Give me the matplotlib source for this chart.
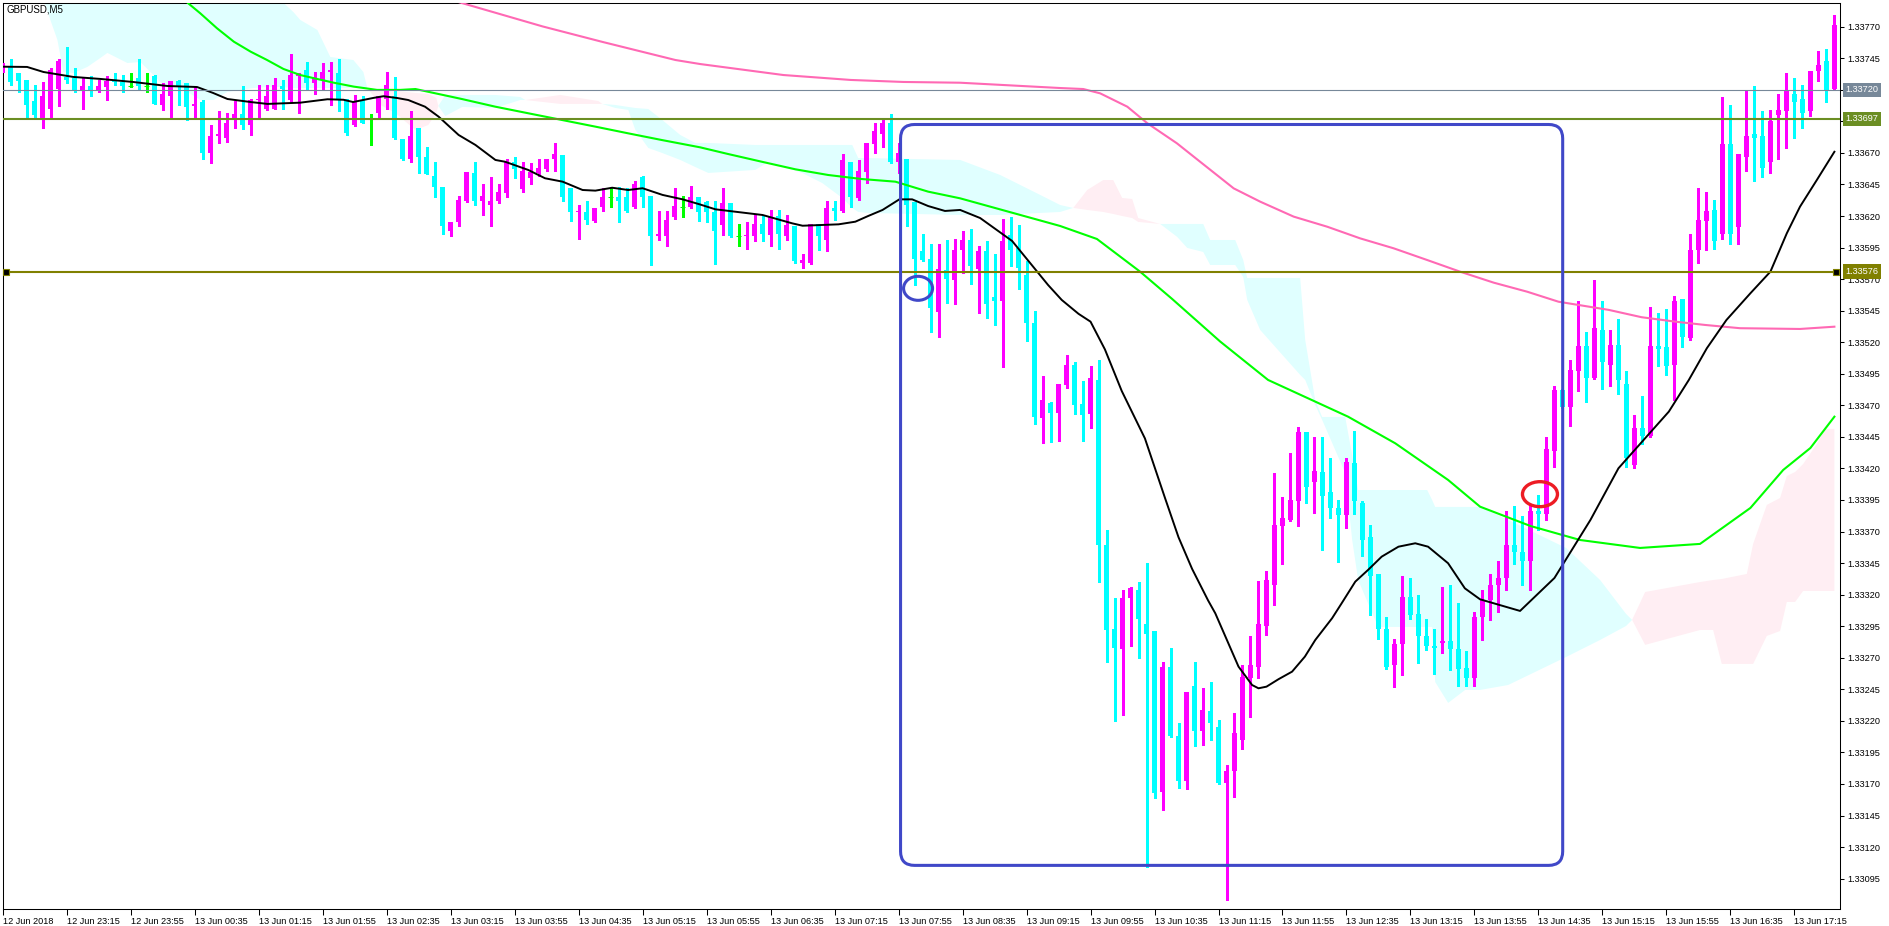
import matplotlib
matplotlib.use("Agg")
import matplotlib.pyplot as plt
import matplotlib.transforms as mtransforms
from matplotlib.patches import FancyBboxPatch, Ellipse
import numpy as np
import pandas as pd

# GBPUSD M5 bars, 12 Jun 22:35 -> 13 Jun 17:40
opens = [
    1.33735, 1.33738, 1.33733, 1.33728, 1.33711, 1.33697, 1.33705, 1.33721, 1.33730, 1.33729,
    1.33719, 1.33723, 1.33720, 1.33722, 1.33727, 1.33726, 1.33723, 1.33729, 1.33723, 1.33731,
    1.33708, 1.33715, 1.33727, 1.33725, 1.33707, 1.33710, 1.33670, 1.33683, 1.33682, 1.33697,
    1.33701, 1.33692, 1.33712, 1.33705, 1.33705, 1.33723, 1.33712, 1.33731, 1.33736, 1.33725,
    1.33728, 1.33734, 1.33733, 1.33713, 1.33692, 1.33711, 1.33697, 1.33702, 1.33713, 1.33715,
    1.33681, 1.33665, 1.33690, 1.33667, 1.33652, 1.33643, 1.33608, 1.33615, 1.33632, 1.33654,
    1.33632, 1.33629, 1.33632, 1.33638, 1.33663, 1.33641, 1.33650, 1.33654, 1.33657, 1.33665,
    1.33668, 1.33642, 1.33623, 1.33623, 1.33616, 1.33627, 1.33635, 1.33635, 1.33635, 1.33627,
    1.33651, 1.33636, 1.33604, 1.33604, 1.33619, 1.33627, 1.33627, 1.33635, 1.33631, 1.33623,
    1.33613, 1.33630, 1.33604, 1.33604, 1.33604, 1.33614, 1.33605, 1.33620, 1.33604, 1.33612,
    1.33583, 1.33583, 1.33614, 1.33601, 1.33626, 1.33624, 1.33663, 1.33634, 1.33655, 1.33677,
    1.33685, 1.33694, 1.33663, 1.33665, 1.33631, 1.33592, 1.33586, 1.33544, 1.33577, 1.33569,
    1.33593, 1.33601, 1.33578, 1.33592, 1.33556, 1.33553, 1.33605, 1.33595, 1.33573, 1.33535,
    1.33460, 1.33472, 1.33464, 1.33486, 1.33502, 1.33471, 1.33463, 1.33490, 1.33359, 1.33293,
    1.33277, 1.33317, 1.33324, 1.33297, 1.33291, 1.33164, 1.33263, 1.33208, 1.33172, 1.33248,
    1.33212, 1.33228, 1.33215, 1.33171, 1.33180, 1.33205, 1.33254, 1.33263, 1.33295, 1.33328,
    1.33374, 1.33379, 1.33394, 1.33449, 1.33409, 1.33417, 1.33401, 1.33389, 1.33383, 1.33424,
    1.33393, 1.33366, 1.33336, 1.33293, 1.33264, 1.33281, 1.33318, 1.33305, 1.33287, 1.33279,
    1.33282, 1.33283, 1.33277, 1.33262, 1.33254, 1.33302, 1.33316, 1.33328, 1.33333, 1.33359,
    1.33354, 1.33347, 1.33386, 1.33384, 1.33434, 1.33482, 1.33469, 1.33497, 1.33517, 1.33492,
    1.33530, 1.33502, 1.33518, 1.33487, 1.33423, 1.33452, 1.33446, 1.33517, 1.33516, 1.33502,
    1.33554, 1.33523, 1.33593, 1.33616, 1.33625, 1.33606, 1.33677, 1.33611, 1.33667, 1.33685,
    1.33683, 1.33663, 1.33700, 1.33703, 1.33717, 1.33713, 1.33703, 1.33735, 1.33743, 1.33721,
]
highs = [
    1.33741, 1.33744, 1.33733, 1.33728, 1.33724, 1.33726, 1.33737, 1.33744, 1.33754, 1.33737,
    1.33730, 1.33731, 1.33728, 1.33731, 1.33733, 1.33732, 1.33733, 1.33744, 1.33733, 1.33732,
    1.33725, 1.33727, 1.33728, 1.33725, 1.33722, 1.33712, 1.33692, 1.33703, 1.33702, 1.33711,
    1.33723, 1.33713, 1.33724, 1.33724, 1.33729, 1.33728, 1.33748, 1.33733, 1.33742, 1.33734,
    1.33741, 1.33742, 1.33744, 1.33713, 1.33716, 1.33715, 1.33701, 1.33715, 1.33734, 1.33730,
    1.33681, 1.33703, 1.33690, 1.33675, 1.33663, 1.33643, 1.33615, 1.33636, 1.33655, 1.33663,
    1.33645, 1.33651, 1.33645, 1.33665, 1.33667, 1.33663, 1.33662, 1.33665, 1.33665, 1.33678,
    1.33668, 1.33642, 1.33629, 1.33632, 1.33626, 1.33642, 1.33642, 1.33643, 1.33642, 1.33648,
    1.33652, 1.33636, 1.33624, 1.33624, 1.33642, 1.33636, 1.33644, 1.33635, 1.33632, 1.33632,
    1.33642, 1.33630, 1.33614, 1.33615, 1.33621, 1.33621, 1.33625, 1.33625, 1.33621, 1.33612,
    1.33590, 1.33614, 1.33614, 1.33632, 1.33632, 1.33669, 1.33663, 1.33664, 1.33678, 1.33694,
    1.33696, 1.33701, 1.33678, 1.33665, 1.33631, 1.33606, 1.33598, 1.33598, 1.33601, 1.33602,
    1.33608, 1.33610, 1.33596, 1.33600, 1.33590, 1.33618, 1.33619, 1.33613, 1.33584, 1.33545,
    1.33493, 1.33473, 1.33487, 1.33510, 1.33504, 1.33489, 1.33501, 1.33506, 1.33371, 1.33317,
    1.33324, 1.33326, 1.33330, 1.33345, 1.33291, 1.33267, 1.33278, 1.33218, 1.33243, 1.33267,
    1.33246, 1.33251, 1.33221, 1.33185, 1.33226, 1.33264, 1.33287, 1.33331, 1.33339, 1.33416,
    1.33397, 1.33432, 1.33453, 1.33449, 1.33445, 1.33445, 1.33428, 1.33395, 1.33428, 1.33450,
    1.33394, 1.33375, 1.33336, 1.33302, 1.33285, 1.33335, 1.33333, 1.33320, 1.33301, 1.33293,
    1.33326, 1.33328, 1.33313, 1.33275, 1.33306, 1.33324, 1.33336, 1.33347, 1.33386, 1.33390,
    1.33382, 1.33392, 1.33399, 1.33445, 1.33485, 1.33483, 1.33506, 1.33553, 1.33528, 1.33569,
    1.33553, 1.33530, 1.33538, 1.33497, 1.33462, 1.33477, 1.33548, 1.33543, 1.33546, 1.33557,
    1.33554, 1.33606, 1.33642, 1.33639, 1.33633, 1.33714, 1.33708, 1.33669, 1.33719, 1.33723,
    1.33703, 1.33704, 1.33717, 1.33733, 1.33729, 1.33724, 1.33735, 1.33751, 1.33752, 1.33779,
]
lows = [
    1.33734, 1.33724, 1.33718, 1.33697, 1.33697, 1.33690, 1.33697, 1.33707, 1.33725, 1.33718,
    1.33705, 1.33715, 1.33718, 1.33712, 1.33724, 1.33718, 1.33722, 1.33721, 1.33718, 1.33709,
    1.33704, 1.33697, 1.33708, 1.33696, 1.33697, 1.33665, 1.33662, 1.33678, 1.33679, 1.33690,
    1.33689, 1.33684, 1.33697, 1.33704, 1.33705, 1.33705, 1.33711, 1.33702, 1.33721, 1.33717,
    1.33720, 1.33708, 1.33703, 1.33684, 1.33691, 1.33694, 1.33676, 1.33697, 1.33705, 1.33681,
    1.33664, 1.33663, 1.33654, 1.33653, 1.33635, 1.33606, 1.33604, 1.33612, 1.33631, 1.33629,
    1.33621, 1.33612, 1.33630, 1.33635, 1.33650, 1.33639, 1.33645, 1.33652, 1.33656, 1.33656,
    1.33632, 1.33616, 1.33602, 1.33614, 1.33615, 1.33624, 1.33627, 1.33615, 1.33623, 1.33626,
    1.33627, 1.33581, 1.33601, 1.33596, 1.33618, 1.33619, 1.33626, 1.33616, 1.33615, 1.33582,
    1.33605, 1.33603, 1.33596, 1.33594, 1.33600, 1.33600, 1.33596, 1.33594, 1.33601, 1.33583,
    1.33579, 1.33582, 1.33593, 1.33592, 1.33617, 1.33623, 1.33627, 1.33633, 1.33646, 1.33670,
    1.33675, 1.33662, 1.33654, 1.33612, 1.33565, 1.33584, 1.33528, 1.33524, 1.33551, 1.33550,
    1.33575, 1.33566, 1.33543, 1.33539, 1.33534, 1.33500, 1.33580, 1.33562, 1.33521, 1.33455,
    1.33440, 1.33441, 1.33442, 1.33484, 1.33463, 1.33442, 1.33452, 1.33330, 1.33267, 1.33220,
    1.33225, 1.33279, 1.33270, 1.33104, 1.33159, 1.33149, 1.33207, 1.33167, 1.33166, 1.33200,
    1.33201, 1.33205, 1.33170, 1.33078, 1.33160, 1.33198, 1.33223, 1.33254, 1.33288, 1.33312,
    1.33344, 1.33378, 1.33374, 1.33393, 1.33385, 1.33355, 1.33381, 1.33346, 1.33373, 1.33384,
    1.33351, 1.33304, 1.33285, 1.33261, 1.33247, 1.33256, 1.33301, 1.33266, 1.33276, 1.33257,
    1.33274, 1.33260, 1.33248, 1.33248, 1.33248, 1.33284, 1.33300, 1.33306, 1.33324, 1.33344,
    1.33328, 1.33324, 1.33371, 1.33379, 1.33421, 1.33468, 1.33454, 1.33481, 1.33473, 1.33491,
    1.33483, 1.33485, 1.33479, 1.33421, 1.33420, 1.33439, 1.33445, 1.33501, 1.33494, 1.33474,
    1.33516, 1.33522, 1.33583, 1.33593, 1.33594, 1.33602, 1.33598, 1.33598, 1.33656, 1.33648,
    1.33651, 1.33654, 1.33665, 1.33674, 1.33682, 1.33690, 1.33699, 1.33727, 1.33710, 1.33720,
]
closes = [
    1.33740, 1.33726, 1.33727, 1.33708, 1.33700, 1.33715, 1.33736, 1.33743, 1.33728, 1.33720,
    1.33723, 1.33720, 1.33723, 1.33727, 1.33726, 1.33723, 1.33723, 1.33723, 1.33723, 1.33709,
    1.33717, 1.33727, 1.33722, 1.33706, 1.33709, 1.33670, 1.33683, 1.33685, 1.33694, 1.33701,
    1.33692, 1.33712, 1.33713, 1.33715, 1.33724, 1.33721, 1.33732, 1.33733, 1.33725, 1.33730,
    1.33734, 1.33736, 1.33712, 1.33686, 1.33711, 1.33694, 1.33697, 1.33715, 1.33724, 1.33682,
    1.33665, 1.33683, 1.33667, 1.33653, 1.33643, 1.33612, 1.33615, 1.33633, 1.33655, 1.33632,
    1.33636, 1.33632, 1.33639, 1.33663, 1.33657, 1.33656, 1.33655, 1.33658, 1.33665, 1.33669,
    1.33635, 1.33623, 1.33624, 1.33617, 1.33626, 1.33635, 1.33635, 1.33632, 1.33624, 1.33645,
    1.33635, 1.33604, 1.33606, 1.33617, 1.33628, 1.33627, 1.33635, 1.33623, 1.33623, 1.33608,
    1.33630, 1.33604, 1.33604, 1.33605, 1.33614, 1.33606, 1.33619, 1.33606, 1.33613, 1.33584,
    1.33585, 1.33614, 1.33604, 1.33626, 1.33624, 1.33664, 1.33635, 1.33656, 1.33678, 1.33687,
    1.33694, 1.33663, 1.33670, 1.33629, 1.33586, 1.33585, 1.33547, 1.33578, 1.33570, 1.33593,
    1.33601, 1.33580, 1.33592, 1.33550, 1.33553, 1.33600, 1.33593, 1.33579, 1.33535, 1.33461,
    1.33474, 1.33464, 1.33487, 1.33502, 1.33470, 1.33462, 1.33492, 1.33359, 1.33292, 1.33278,
    1.33317, 1.33325, 1.33301, 1.33289, 1.33163, 1.33263, 1.33208, 1.33172, 1.33243, 1.33212,
    1.33229, 1.33218, 1.33171, 1.33180, 1.33210, 1.33255, 1.33264, 1.33297, 1.33332, 1.33375,
    1.33381, 1.33395, 1.33449, 1.33405, 1.33418, 1.33398, 1.33389, 1.33383, 1.33425, 1.33394,
    1.33363, 1.33335, 1.33293, 1.33263, 1.33281, 1.33318, 1.33304, 1.33287, 1.33279, 1.33278,
    1.33283, 1.33277, 1.33261, 1.33254, 1.33302, 1.33316, 1.33328, 1.33333, 1.33359, 1.33354,
    1.33347, 1.33386, 1.33384, 1.33435, 1.33482, 1.33469, 1.33498, 1.33517, 1.33492, 1.33531,
    1.33504, 1.33518, 1.33490, 1.33428, 1.33452, 1.33446, 1.33517, 1.33515, 1.33501, 1.33553,
    1.33524, 1.33593, 1.33617, 1.33624, 1.33600, 1.33677, 1.33606, 1.33669, 1.33683, 1.33682,
    1.33658, 1.33695, 1.33704, 1.33719, 1.33710, 1.33702, 1.33735, 1.33740, 1.33720, 1.33771,
]
first_bar = "2018-06-12 22:35"

# moving averages, sampled along the drawn lines (bar index, price)
black_ma_bar = [0, 3.05, 5.1, 8.8, 12.2, 16.3, 20.6, 24.3, 26.3, 28.1, 31, 33.1, 37.2, 40.6,
                42.6, 43.8, 46.3, 47.6, 49.3, 50.7, 52.8, 54.5, 57, 59.1, 61.6, 62.8, 65.7,
                67.8, 70, 72.5, 74.1, 76.2, 78.2, 80, 82.5, 85, 87, 89.1, 95, 98.7, 100,
                104.5, 106.6, 108.2, 110, 112.1, 113.7, 115.7, 117.8, 119.7, 122.2, 126.2,
                130.7, 132.4, 134.5, 136, 137.8, 139.9, 142.8, 145.3, 147, 148.7, 150.7,
                151.6, 154.5, 156.2, 157, 158, 159.5, 161.2, 162.8, 164.1, 166.2, 167.4,
                169.1, 170.7, 172.4, 174.5, 176.6, 178.2, 180.7, 182.8, 184.7, 189.7, 194,
                198.5, 202, 205.7, 208.3, 210.8, 213.05, 215.5, 218.5, 221, 223.05, 224.7,
                226.8, 229]
black_ma = [1.337383, 1.337381, 1.337341, 1.337302, 1.337286, 1.337262, 1.337230, 1.337222,
            1.337175, 1.337127, 1.337103, 1.337088, 1.337098, 1.337125, 1.337121, 1.337103,
            1.337135, 1.337149, 1.337135, 1.337119, 1.337066, 1.336987, 1.336842, 1.336763,
            1.336644, 1.336630, 1.336565, 1.336499, 1.336472, 1.336406, 1.336401, 1.336424,
            1.336406, 1.336420, 1.336367, 1.336332, 1.336295, 1.336253, 1.336208, 1.336142,
            1.336123, 1.336134, 1.336155, 1.336200, 1.336248, 1.336332, 1.336332, 1.336279,
            1.336240, 1.336248, 1.336184, 1.336002, 1.335653, 1.335535, 1.335425, 1.335363,
            1.335143, 1.334814, 1.334438, 1.333968, 1.333655, 1.333404, 1.333154, 1.333052,
            1.332630, 1.332484, 1.332458, 1.332471, 1.332530, 1.332590, 1.332709, 1.332841,
            1.333013, 1.333132, 1.333303, 1.333396, 1.333501, 1.333580, 1.333607, 1.333580,
            1.333449, 1.333250, 1.333163, 1.333071, 1.333332, 1.333792, 1.334201, 1.334465,
            1.334650, 1.334901, 1.335152, 1.335376, 1.335588, 1.335759, 1.336063, 1.336274,
            1.336485, 1.336709]
green_ma_bar = [22, 23.2, 24.7, 26.8, 28.9, 31, 33.05, 35.1, 37.2, 39.3, 41.4, 43.9, 46.8,
                49.7, 51.6, 57.4, 61.6, 65.7, 69.9, 74.1, 78.2, 82.4, 87.2, 90.7, 94.9, 99.1,
                103.2, 107.4, 111.6, 115.7, 119.7, 132.2, 136.8, 142.2, 146.2, 152.2, 158.2,
                168.2, 174.1, 180.7, 184.7, 191, 197.2, 204.7, 212.2, 218.5, 222.6, 226, 229]
green_ma = [1.337955, 1.337885, 1.337806, 1.337687, 1.337581, 1.337502, 1.337436, 1.337365,
            1.337317, 1.337286, 1.337256, 1.337225, 1.337199, 1.337199, 1.337206, 1.337127,
            1.337066, 1.337014, 1.336961, 1.336908, 1.336855, 1.336802, 1.336744, 1.336691,
            1.336630, 1.336570, 1.336525, 1.336493, 1.336472, 1.336393, 1.336340, 1.336121,
            1.336018, 1.335759, 1.335543, 1.335206, 1.334901, 1.334610, 1.334399, 1.334109,
            1.333897, 1.333744, 1.333633, 1.333570, 1.333602, 1.333887, 1.334188, 1.334362,
            1.334610]
pink_ma_bar = [54, 67.5, 75, 84.1, 87.2, 97.6, 106, 112.6, 119.7, 132.2, 135.1, 137.2, 140.6,
               143.1, 146.8, 149.7, 153.9, 157.2, 161.4, 165.6, 169.7, 173.9, 178.1, 182.2,
               186.4, 190.6, 194.5, 200.8, 204.9, 209.1, 212.8, 217.2, 224.7, 229]
pink_ma = [1.337950, 1.337702, 1.337579, 1.337436, 1.337404, 1.337317, 1.337278, 1.337262,
           1.337256, 1.337214, 1.337206, 1.337172, 1.337066, 1.336935, 1.336776, 1.336630,
           1.336419, 1.336314, 1.336195, 1.336115, 1.336023, 1.335944, 1.335851, 1.335759,
           1.335672, 1.335600, 1.335521, 1.335456, 1.335398, 1.335363, 1.335337, 1.335311,
           1.335305, 1.335323]

# ichimoku cloud edges (pink where span_a is above span_b, cyan otherwise)
cloud_bar = [4.71, 5.96, 6.84, 7.59, 8.84, 10.59, 12.21, 13.09, 14.34, 15.59, 17.21, 18.84,
             20.09, 23.09, 24.71, 26.34, 28.09, 31.34, 33.09, 34.71, 36.34, 37.21, 39.34,
             40.96, 43.84, 45.09, 45.59, 47.21, 49.09, 51.59, 53.21, 54.21, 54.46, 55.34,
             57.46, 61.59, 64.71, 65.34, 69.71, 74.46, 74.96, 76.59, 78.21, 79.09, 80.71,
             82.46, 84.71, 86.59, 88.21, 94.09, 95.71, 99.96, 102.46, 104.96, 106.21, 106.96,
             108.21, 119.71, 124.71, 129.71, 132.21, 133.84, 135.59, 137.59, 138.84, 139.96,
             141.21, 141.96, 144.71, 146.84, 148.09, 150.09, 150.96, 154.09, 155.09, 155.59,
             157.21, 162.21, 162.84, 164.09, 164.96, 167.84, 168.71, 169.46, 171.96, 178.09,
             178.71, 179.09, 180.71, 182.84, 184.71, 188.21, 195.46, 199.71, 202.96, 203.71,
             205.34, 212.21, 213.84, 214.92, 218.05, 218.84, 220.55, 222.21, 223.05, 224.09,
             225.09, 226.8, 227.84, 229.0]
span_a = [1.337991, 1.337753, 1.337595, 1.337341, 1.337333, 1.337381, 1.337452, 1.337492,
          1.337452, 1.337412, 1.337420, 1.337317, 1.337238, 1.337183, 1.337119, 1.337119,
          1.337183, 1.337214, 1.337222, 1.337222, 1.337214, 1.337214, 1.337214, 1.337214,
          1.337214, 1.337214, 1.337214, 1.337198, 1.337191, 1.337175, 1.337167, 1.337135,
          1.337072, 1.336992, 1.337064, 1.337056, 1.337119, 1.337119, 1.337159, 1.337111,
          1.337088, 1.337056, 1.337040, 1.336882, 1.336739, 1.336699, 1.336644, 1.336588,
          1.336541, 1.336565, 1.336628, 1.336541, 1.336461, 1.336343, 1.336264, 1.336232,
          1.336224, 1.336208, 1.336208, 1.336224, 1.336232, 1.336264, 1.336406, 1.336485,
          1.336485, 1.336343, 1.336335, 1.336184, 1.336137, 1.336034, 1.335947, 1.335915,
          1.335812, 1.335812, 1.335717, 1.335535, 1.335297, 1.334941, 1.334901, 1.334703,
          1.334584, 1.334164, 1.333634, 1.333316, 1.332944, 1.332944, 1.332944, 1.332508,
          1.332342, 1.332445, 1.332445, 1.332484, 1.332706, 1.332841, 1.332952, 1.333000,
          1.333221, 1.333300, 1.333316, 1.333324, 1.333364, 1.333602, 1.333911, 1.333966,
          1.334140, 1.334172, 1.334235, 1.334394, 1.334513, 1.334513]
span_b = [1.337991, 1.338149, 1.338149, 1.338149, 1.338149, 1.338149, 1.338149, 1.338149,
          1.338149, 1.338149, 1.338149, 1.338149, 1.338149, 1.338149, 1.338149, 1.338149,
          1.338149, 1.338149, 1.338149, 1.337912, 1.337816, 1.337753, 1.337674, 1.337460,
          1.337436, 1.337341, 1.337214, 1.337080, 1.337016, 1.336882, 1.336921, 1.337016,
          1.337072, 1.337159, 1.337159, 1.337159, 1.337143, 1.337119, 1.337088, 1.337088,
          1.337088, 1.337080, 1.337064, 1.337056, 1.337048, 1.336961, 1.336842, 1.336779,
          1.336779, 1.336763, 1.336763, 1.336763, 1.336763, 1.336763, 1.336763, 1.336659,
          1.336659, 1.336644, 1.336525, 1.336367, 1.336287, 1.336264, 1.336248, 1.336232,
          1.336216, 1.336200, 1.336184, 1.336153, 1.336137, 1.336137, 1.336137, 1.336137,
          1.336010, 1.336010, 1.335852, 1.335709, 1.335709, 1.335709, 1.335218, 1.334742,
          1.334608, 1.334608, 1.334307, 1.334029, 1.334029, 1.334029, 1.333950, 1.333895,
          1.333895, 1.333895, 1.333895, 1.333792, 1.333570, 1.333316, 1.333047, 1.333000,
          1.332802, 1.332920, 1.332920, 1.332651, 1.332651, 1.332651, 1.332873, 1.332912,
          1.333142, 1.333142, 1.333229, 1.333229, 1.333229, 1.333229]

bid_line = 1.33720
upper_level = 1.33697
lower_level = 1.33576

# ---------------------------------------------------------------
W, H = 1889, 926
MAG, CYA, LIME = "#FF00FF", "#00FFFF", "#00FF00"
plt.rcParams["font.family"] = ["Liberation Sans", "DejaVu Sans"]
FS = 6.6

fig = plt.figure(figsize=(W / 100, H / 100), dpi=100)
fig.patch.set_facecolor("white")
# plot frame in pixels: x 2.7..1840, y 2.7..909.3
ax = fig.add_axes([2.7 / W, 1 - 909.3 / H, (1840 - 2.7) / W, (909.3 - 2.7) / H])
ax.set_xlim(0.05, 229.7)
ax.set_ylim(1.330707, 1.337890)
px_x = (229.7 - 0.05) / (1840 - 2.7)
px_y = (1.337890 - 1.330707) / (909.3 - 2.7)

# cloud
cb = np.array(cloud_bar)
sa = np.array(span_a)
sb = np.array(span_b)
ax.fill_between(cb, sa, sb, where=sb >= sa, interpolate=True, color="#E0FFFF", lw=0, zorder=1)
ax.fill_between(cb, sa, sb, where=sa >= sb, interpolate=True, color="#FFEEF3", lw=0, zorder=1)

# candles
o, h, l, c = (np.array(v) for v in (opens, highs, lows, closes))
x = np.arange(len(c))
up, dn, dj = c > o, c < o, c == o
col = np.where(up, MAG, np.where(dn, CYA, LIME))
ax.vlines(x, l, h, colors=col, lw=0.75, zorder=3, antialiased=False)
bw = 5 * px_x
ax.bar(x[up], c[up] - o[up], bottom=o[up], width=bw, color=MAG, lw=0, zorder=3, antialiased=False)
ax.bar(x[dn], o[dn] - c[dn], bottom=c[dn], width=bw, color=CYA, lw=0, zorder=3, antialiased=False)
ax.hlines(o[dj], x[dj] - bw / 2, x[dj] + bw / 2, colors=LIME, lw=0.75, zorder=3)

# moving averages
ax.plot(pink_ma_bar, pink_ma, color="#FF69B4", lw=1.5, zorder=4)
ax.plot(green_ma_bar, green_ma, color=LIME, lw=1.5, zorder=4)
ax.plot(black_ma_bar, black_ma, color="black", lw=1.4, zorder=4)

# horizontal lines
ax.axhline(bid_line, color="#778899", lw=0.8, zorder=5)
ax.axhline(upper_level, color="#6B8E23", lw=1.5, zorder=5)
ax.axhline(lower_level, color="#808000", lw=1.5, zorder=5)
for bx in (0.45, 229.2):
    ax.plot([bx], [lower_level], marker="s", ms=4.5, mfc="black", mec="#808000", mew=0.8,
            clip_on=False, zorder=8)

# annotations
rect = FancyBboxPatch((112.25, 1.331055), 195.03 - 112.25, 1.336925 - 1.331055,
                      boxstyle="round,pad=0,rounding_size=1.75",
                      mutation_aspect=px_y / px_x, fill=False, ec="#4048C8", lw=2.2, zorder=6)
ax.add_patch(rect)
ax.add_patch(Ellipse((114.44, 1.335627), 29 * px_x, 24 * px_y, fill=False,
                     ec="#4048C8", lw=2.2, zorder=6))
ax.add_patch(Ellipse((192.19, 1.333996), 35 * px_x, 25 * px_y, fill=False,
                     ec="#ED1C24", lw=2.4, zorder=6))

# axes, ticks
for s in ax.spines.values():
    s.set_linewidth(0.75)
    s.set_color("black")
times = pd.date_range(first_bar, periods=len(c), freq="5min")
xt = x[::8]
xl = [t.strftime("%d %b %H:%M") for t in times[::8]]
xl[0] = times[0].strftime("%d %b %Y")
ax.set_xticks(xt)
ax.set_xticklabels(xl, ha="left")
ax.tick_params(axis="x", direction="out", length=4, width=0.75, labelsize=FS, pad=1.5)

yt = np.round(1.33095 + 0.00025 * np.arange(28), 5)
ax.yaxis.tick_right()
ax.set_yticks(yt)
ax.set_yticklabels(["%.5f" % v for v in yt])
ax.tick_params(axis="y", direction="out", length=3, width=0.75, labelsize=FS, pad=2)

# price tags on the right scale
tr = mtransforms.blended_transform_factory(fig.transFigure, ax.transData)
for val, bg in ((bid_line, "#778899"), (upper_level, "#6B8E23"), (lower_level, "#808000")):
    ax.text(1845.5 / W, val, "%.5f" % val, transform=tr, ha="left", va="center",
            fontsize=FS, color="white", clip_on=False, zorder=10,
            bbox=dict(boxstyle="square,pad=0.3", fc=bg, ec="none"))

fig.text(6.5 / W, 1 - 4.5 / H, "GBPUSD,M5", ha="left", va="top", fontsize=7, color="black")

fig.savefig("out.png", dpi=100)
